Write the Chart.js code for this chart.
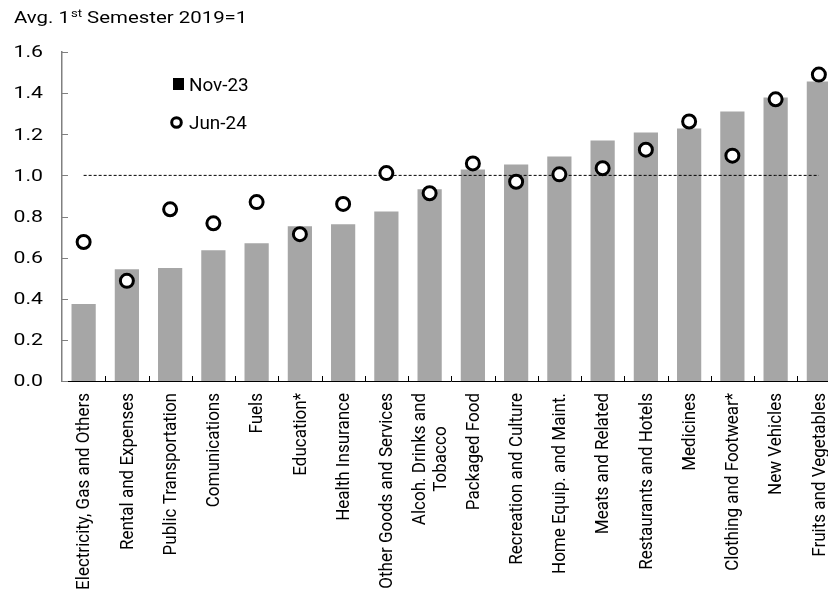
<!DOCTYPE html>
<html>
<head>
<meta charset="utf-8">
<script src="https://cdn.jsdelivr.net/npm/chart.js@4"></script>
<style>
  html, body { margin: 0; padding: 0; overflow: hidden; background: #fff; }
  canvas { display: block; }
</style>
</head>
<body>
<canvas id="priceChart" width="850" height="592"></canvas>
<script>
const categories = [
  "Electricity, Gas and Others",
  "Rental and Expenses",
  "Public Transportation",
  "Comunications",
  "Fuels",
  "Education*",
  "Health Insurance",
  "Other Goods and Services",
  ["Alcoh. Drinks and", "Tobacco"],
  "Packaged Food",
  "Recreation and Culture",
  "Home Equip. and Maint.",
  "Meats and Related",
  "Restaurants and Hotels",
  "Medicines",
  "Clothing and Footwear*",
  "New Vehicles",
  "Fruits and Vegetables",
];
const nov23 = [0.375, 0.544, 0.549, 0.636, 0.670, 0.752, 0.762, 0.824, 0.932, 1.029,
  1.053, 1.092, 1.170, 1.209, 1.228, 1.311, 1.379, 1.456];
const jun24 = [0.676, 0.487, 0.835, 0.767, 0.870, 0.714, 0.861, 1.011, 0.913, 1.058,
  0.969, 1.005, 1.035, 1.125, 1.262, 1.096, 1.370, 1.490];
const baseline = categories.map(() => 1);
const yTicks = [0, 0.2, 0.4, 0.6, 0.8, 1.0, 1.2, 1.4, 1.6];

const FONT = "Roboto";

// text drawn a little wide, like the original export
function wideText(c, text, x, y, sx) {
  c.save();
  c.translate(x, y);
  c.scale(sx, 1);
  c.fillText(text, 0, 0);
  c.restore();
  return c.measureText(text).width * sx;
}

// title with superscript, custom legend, axis labels and inward tick marks
const extras = {
  id: "extras",
  afterDraw(chart) {
    const c = chart.ctx;
    const xs = chart.scales.x;
    const ys = chart.scales.y;
    const area = chart.chartArea;
    c.save();
    c.fillStyle = "#000";
    c.textBaseline = "alphabetic";

    // title
    c.textAlign = "left";
    let x = 14;
    c.font = "17px " + FONT;
    x += wideText(c, "Avg. 1", x, 23, 1.2) + 1;
    c.font = "11px " + FONT;
    x += wideText(c, "st", x, 17, 1.2);
    c.font = "17px " + FONT;
    wideText(c, " Semester 2019=1", x, 23, 1.2);

    // legend
    c.fillRect(173, 78, 11, 12);
    c.font = "18px " + FONT;
    wideText(c, "Nov-23", 189, 91, 1.05);
    c.beginPath();
    c.arc(176.5, 122.5, 4.8, 0, Math.PI * 2);
    c.lineWidth = 3;
    c.strokeStyle = "#000";
    c.stroke();
    wideText(c, "Jun-24", 189, 129, 1.05);

    // y labels and ticks pointing inside
    c.font = "17px " + FONT;
    c.textAlign = "right";
    c.textBaseline = "middle";
    c.strokeStyle = "#808080";
    c.lineWidth = 1;
    yTicks.forEach(v => {
      const py = ys.getPixelForValue(v);
      wideText(c, v.toFixed(1), 43, py + 1, 1.25);
      const ly = Math.round(py) + 0.5;
      c.beginPath();
      c.moveTo(area.left, ly);
      c.lineTo(area.left + 6, ly);
      c.stroke();
    });

    // x ticks between categories, pointing up
    c.strokeStyle = "#000";
    for (let i = 1; i < categories.length; i++) {
      const px = Math.round((xs.getPixelForTick(i - 1) + xs.getPixelForTick(i)) / 2) + 0.5;
      c.beginPath();
      c.moveTo(px, area.bottom);
      c.lineTo(px, area.bottom - 5);
      c.stroke();
    }

    // rotated category labels, text ends near the axis
    c.font = "17px " + FONT;
    categories.forEach((lab, i) => {
      const lines = Array.isArray(lab) ? lab : [lab];
      const px = xs.getPixelForTick(i);
      c.save();
      c.translate(px, area.bottom + 12);
      c.scale(1.1, 1);
      c.rotate(-Math.PI / 2);
      const w = Math.max(...lines.map(l => c.measureText(l).width));
      const lh = 19;
      c.textAlign = "center";
      c.textBaseline = "middle";
      lines.forEach((l, k) => {
        const off = (k - (lines.length - 1) / 2) * lh;
        c.fillText(l, -w / 2, off + 1);
      });
      c.restore();
    });
    c.restore();
  },
};

new Chart(document.getElementById("priceChart"), {
  data: {
    labels: categories,
    datasets: [
      {
        type: "line",
        label: "Jun-24",
        data: jun24,
        showLine: false,
        pointRadius: 6.5,
        pointHoverRadius: 6.5,
        pointBorderWidth: 3,
        pointBackgroundColor: "#fff",
        pointBorderColor: "#000",
        order: 0,
      },
      {
        type: "line",
        label: "1.0",
        data: baseline,
        borderColor: "#000",
        borderWidth: 1,
        borderDash: [3, 2],
        pointRadius: 0,
        order: 1,
      },
      {
        type: "bar",
        label: "Nov-23",
        data: nov23,
        backgroundColor: "#a6a6a6",
        categoryPercentage: 1,
        barPercentage: 0.56,
        order: 2,
      },
    ],
  },
  options: {
    responsive: false,
    animation: false,
    layout: { padding: { top: 52, right: 8, left: 0, bottom: 0 } },
    plugins: {
      legend: { display: false },
      tooltip: { enabled: false },
    },
    scales: {
      x: {
        offset: true,
        grid: { display: false },
        border: { display: true, color: "#000", width: 1 },
        ticks: { display: false },
        afterFit(scale) {
          scale.height = 211;
        },
      },
      y: {
        min: 0,
        max: 1.6,
        grid: { display: false, drawTicks: false },
        border: { display: true, color: "#808080", width: 1.5 },
        ticks: { display: false, stepSize: 0.2 },
        afterFit(scale) {
          scale.width = 62;
        },
      },
    },
  },
  plugins: [extras],
});
</script>
</body>
</html>
